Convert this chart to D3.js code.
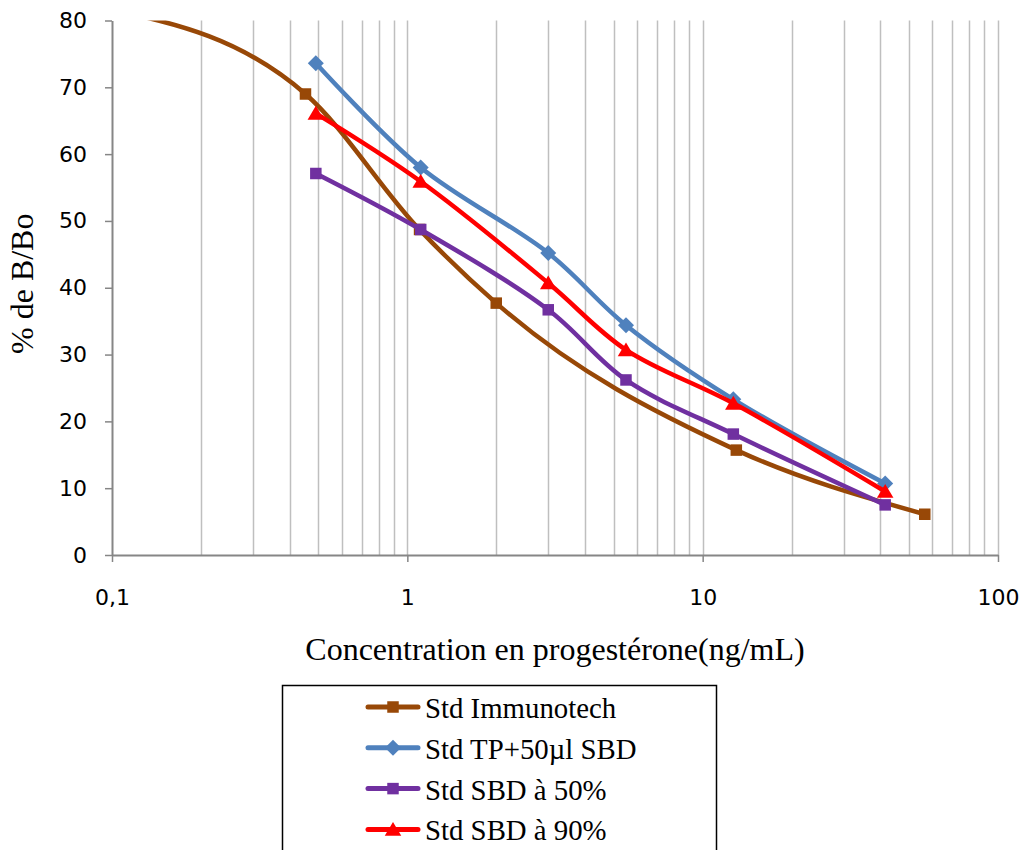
<!DOCTYPE html>
<html>
<head>
<meta charset="utf-8">
<script src="https://cdn.jsdelivr.net/npm/d3@7"></script>
<style>
  html, body { margin: 0; padding: 0; background: #fff; }
  svg { display: block; }
</style>
</head>
<body>
<svg id="chart" width="1024" height="850"></svg>
<script>
// ---- data ----
const seriesNames = ["Std Immunotech", "Std TP+50µl SBD", "Std SBD à 50%", "Std SBD à 90%"];
const immunoX = [0.1, 0.452, 1.1, 2.0, 13.0, 56.5];
const immunoY = [81.6, 69.0, 48.7, 37.7, 15.7, 6.1];
const tpX = [0.49, 1.11, 3.0, 5.5, 12.7, 41.5];
const tpY = [73.6, 58.0, 45.2, 34.4, 23.3, 10.7];
const sbd50X = [0.49, 1.11, 3.0, 5.5, 12.7, 41.5];
const sbd50Y = [57.1, 48.7, 36.7, 26.2, 18.1, 7.5];
const sbd90X = [0.49, 1.11, 3.0, 5.5, 12.7, 41.5];
const sbd90Y = [66.1, 55.9, 40.7, 30.7, 22.7, 9.5];
const xTickValues = [0.1, 1, 10, 100];
const xTickLabels = ["0,1", "1", "10", "100"];
const yTickValues = [0, 10, 20, 30, 40, 50, 60, 70, 80];
const xTitle = "Concentration en progestérone(ng/mL)";
const yTitle = "% de B/Bo";

// ---- styles ----
const colors = ["#984807", "#4F81BD", "#7030A0", "#FF0000"];
const markers = ["square", "diamond", "square", "triangle"];

(function () {
const svg = d3.select("#chart");
const pLeft = 112, pRight = 998, pTop = 20.5, pBottom = 555;
const x = d3.scaleLog().domain([0.1, 100]).range([pLeft, pRight]);
const y = d3.scaleLinear().domain([0, 80]).range([pBottom, pTop]);

// gridlines (major + minor)
const grid = [];
[0.1, 1, 10].forEach(d => { for (let k = 1; k <= 9; k++) grid.push(d * k); });
grid.push(100);
svg.append("g").selectAll("line")
  .data(grid.filter(v => v > 0.1 + 1e-9))
  .join("line")
  .attr("x1", d => Math.round(x(d)) + 0.5).attr("x2", d => Math.round(x(d)) + 0.5)
  .attr("y1", pTop).attr("y2", pBottom)
  .attr("stroke", "#bfbfbf").attr("stroke-width", 1.5);

// axes
const axisColor = "#868686";
const gx = svg.append("g").attr("transform", `translate(0,${pBottom})`)
  .call(d3.axisBottom(x).tickValues(xTickValues).tickSize(7).tickSizeOuter(0).tickPadding(27)
    .tickFormat((d, i) => xTickLabels[i]));
const gy = svg.append("g").attr("transform", `translate(${pLeft},0)`)
  .call(d3.axisLeft(y).tickValues(yTickValues).tickSize(7).tickSizeOuter(0).tickPadding(18));
[gx, gy].forEach(g => {
  g.select(".domain").attr("stroke", axisColor).attr("stroke-width", 2);
  g.selectAll(".tick line").attr("stroke", axisColor).attr("stroke-width", 1.5);
  g.selectAll(".tick text").attr("fill", "#000")
    .style("font-family", "'DejaVu Sans', sans-serif").style("font-size", "22px");
});

// clip
svg.append("defs").append("clipPath").attr("id", "plotclip")
  .append("rect").attr("x", pLeft).attr("y", pTop).attr("width", pRight - pLeft).attr("height", pBottom - pTop);

const allSeries = [
  { x: immunoX, y: immunoY, curve: d3.curveMonotoneX },
  { x: tpX, y: tpY, curve: d3.curveCatmullRom.alpha(0.5) },
  { x: sbd50X, y: sbd50Y, curve: d3.curveCatmullRom.alpha(0.5) },
  { x: sbd90X, y: sbd90Y, curve: d3.curveCatmullRom.alpha(0.5) }
];

function markerPath(type, s) {
  if (type === "square") return `M${-s/2},${-s/2}h${s}v${s}h${-s}Z`;
  if (type === "diamond") return `M0,${-s/2}L${s/2},0L0,${s/2}L${-s/2},0Z`;
  if (type === "triangle") return `M0,${-s*0.5}L${s*0.55},${s*0.42}L${-s*0.55},${s*0.42}Z`;
}
const markerSize = { square: 11.5, diamond: 16, triangle: 15 };

const plot = svg.append("g").attr("clip-path", "url(#plotclip)");
allSeries.forEach((s, i) => {
  const pts = s.x.map((v, j) => [v, s.y[j]]);
  const line = d3.line().x(d => x(d[0])).y(d => y(d[1])).curve(s.curve);
  plot.append("path").datum(pts).attr("d", line)
    .attr("fill", "none").attr("stroke", colors[i]).attr("stroke-width", 4.5)
    .attr("stroke-linejoin", "round").attr("stroke-linecap", "round");
  plot.append("g").selectAll("path").data(pts.filter(d => d[1] <= 80)).join("path")
    .attr("transform", d => `translate(${x(d[0])},${y(d[1])})`)
    .attr("d", markerPath(markers[i], markerSize[markers[i]]))
    .attr("fill", colors[i]);
});

// titles
svg.append("text").attr("x", (pLeft + pRight) / 2).attr("y", 660)
  .attr("text-anchor", "middle")
  .style("font-family", "'Liberation Serif', 'Times New Roman', serif").style("font-size", "32px")
  .text(xTitle);
svg.append("text").attr("transform", `translate(33,${(pTop + pBottom) / 2 - 4}) rotate(-90)`)
  .attr("text-anchor", "middle")
  .style("font-family", "'Liberation Serif', 'Times New Roman', serif").style("font-size", "32px")
  .text(yTitle);

// legend
const lg = svg.append("g");
lg.append("rect").attr("x", 282.5).attr("y", 685.5).attr("width", 434).attr("height", 170)
  .attr("fill", "#fff").attr("stroke", "#000").attr("stroke-width", 1.5);
seriesNames.forEach((name, i) => {
  const cy = 707 + i * 40.8;
  lg.append("line").attr("x1", 368).attr("x2", 418).attr("y1", cy).attr("y2", cy)
    .attr("stroke", colors[i]).attr("stroke-width", 5).attr("stroke-linecap", "round");
  lg.append("path").attr("transform", `translate(393,${cy})`)
    .attr("d", markerPath(markers[i], markerSize[markers[i]]))
    .attr("fill", colors[i]);
  lg.append("text").attr("x", 425).attr("y", cy + 11)
    .style("font-family", "'Liberation Serif', 'Times New Roman', serif").style("font-size", "28.8px")
    .text(name);
});
})();
</script>
</body>
</html>
